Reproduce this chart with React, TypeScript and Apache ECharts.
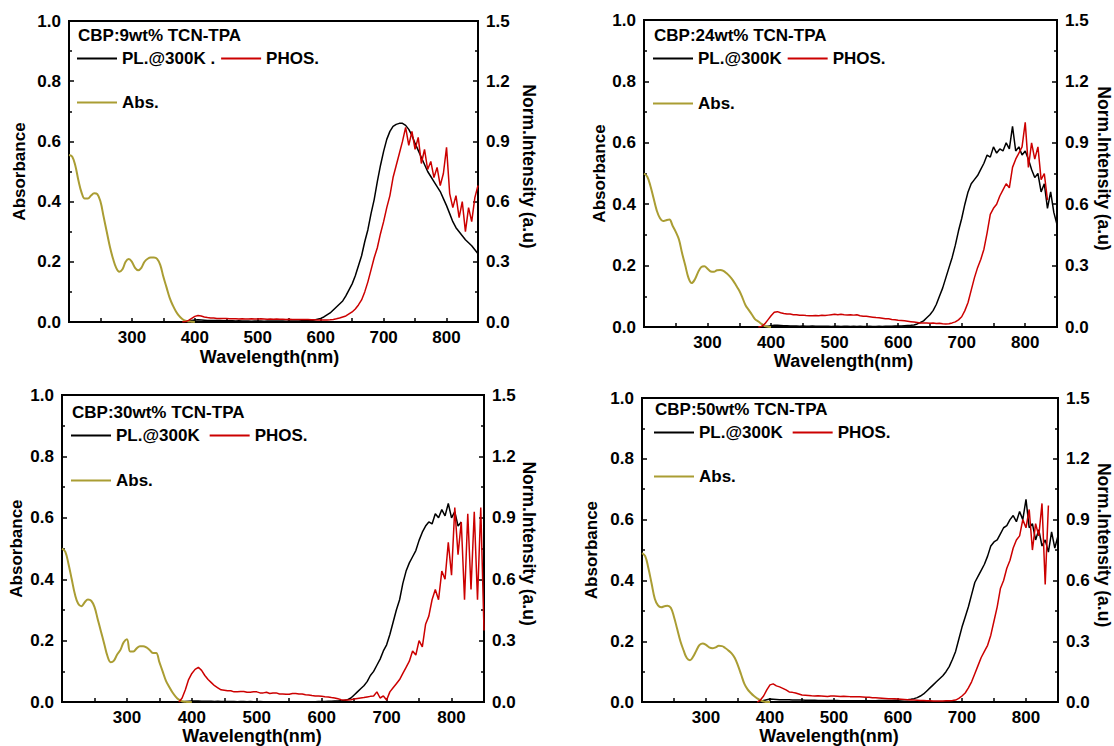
import React, { useEffect, useRef } from 'react';
import * as echarts from 'echarts';

// ---------- data ----------
const WL_ABS = [200, 205, 210, 215, 220, 225, 230, 235, 240, 245, 250, 255, 260, 265, 270, 275, 280, 285, 290, 295, 300, 305, 310, 315, 320, 325, 330, 335, 340, 345, 350, 355, 360, 365, 370, 375, 380, 385, 390, 395, 400];

const WL_EM = [380, 385, 390, 395, 400, 405, 410, 415, 420, 425,
  430, 435, 440, 445, 450, 455, 460, 465, 470, 475,
  480, 485, 490, 495, 500, 505, 510, 515, 520, 525,
  530, 535, 540, 545, 550, 555, 560, 565, 570, 575,
  580, 585, 590, 595, 600, 605, 610, 615, 620, 625,
  630, 635, 640, 645, 650, 655, 660, 665, 670, 675,
  680, 685, 690, 695, 700, 705, 710, 715, 720, 725,
  730, 735, 740, 745, 750, 755, 760, 765, 770, 775,
  780, 785, 790, 795, 800, 805, 810, 815, 820, 825,
  830, 835, 840, 845, 850];

// Absorbance (left axis)
const ABS_1 = [0.555, 0.55, 0.52, 0.47, 0.43, 0.41, 0.41, 0.42, 0.428, 0.425, 0.4, 0.35, 0.3, 0.25, 0.21, 0.18, 0.167, 0.175, 0.2, 0.209, 0.2, 0.18, 0.172, 0.18, 0.2, 0.21, 0.214, 0.214, 0.21, 0.19, 0.15, 0.115, 0.08, 0.055, 0.035, 0.02, 0.01, 0.004, 0.002, 0.001, 0];
const ABS_2 = [0.5, 0.49, 0.46, 0.42, 0.38, 0.355, 0.345, 0.348, 0.35, 0.33, 0.31, 0.285, 0.24, 0.2, 0.16, 0.143, 0.155, 0.178, 0.195, 0.198, 0.19, 0.181, 0.18, 0.185, 0.186, 0.183, 0.175, 0.165, 0.152, 0.135, 0.118, 0.095, 0.07, 0.055, 0.04, 0.025, 0.018, 0.01, 0.003, 0.001, 0];
const ABS_3 = [0.5, 0.49, 0.45, 0.4, 0.35, 0.32, 0.312, 0.325, 0.334, 0.33, 0.31, 0.27, 0.23, 0.19, 0.15, 0.13, 0.135, 0.155, 0.17, 0.195, 0.205, 0.165, 0.165, 0.175, 0.182, 0.182, 0.178, 0.17, 0.16, 0.16, 0.13, 0.1, 0.07, 0.05, 0.032, 0.018, 0.008, 0.003, 0.001, 0, 0];
const ABS_4 = [0.49, 0.48, 0.44, 0.39, 0.34, 0.318, 0.312, 0.315, 0.317, 0.31, 0.28, 0.24, 0.2, 0.17, 0.145, 0.138, 0.15, 0.17, 0.188, 0.193, 0.188, 0.18, 0.177, 0.18, 0.185, 0.184, 0.178, 0.17, 0.16, 0.145, 0.12, 0.09, 0.06, 0.042, 0.03, 0.02, 0.012, 0.006, 0.002, 0, 0];

// PL @300K (right axis, normalized)
const PL_1 = [0, 0.002, 0.005, 0.008, 0.01, 0.011, 0.01, 0.009, 0.008, 0.008,
  0.007, 0.007, 0.007, 0.006, 0.006, 0.006, 0.006, 0.005, 0.006, 0.005,
  0.005, 0.005, 0.004, 0.005, 0.005, 0.005, 0.004, 0.005, 0.005, 0.005,
  0.005, 0.005, 0.005, 0.004, 0.005, 0.005, 0.005, 0.005, 0.006, 0.006,
  0.007, 0.008, 0.01, 0.014, 0.018, 0.025, 0.035, 0.045, 0.06, 0.075,
  0.09, 0.105, 0.13, 0.16, 0.19, 0.23, 0.28, 0.33, 0.4, 0.46,
  0.54, 0.61, 0.7, 0.78, 0.85, 0.91, 0.95, 0.975, 0.985, 0.99,
  0.99, 0.98, 0.96, 0.93, 0.89, 0.855, 0.82, 0.785, 0.75, 0.725,
  0.7, 0.675, 0.65, 0.615, 0.58, 0.54, 0.5, 0.47, 0.45, 0.43,
  0.41, 0.395, 0.38, 0.36, 0.34];
const PL_2 = [0, 0, 0.002, 0.004, 0.006, 0.008, 0.008, 0.007, 0.006, 0.006,
  0.005, 0.005, 0.005, 0.004, 0.005, 0.004, 0.004, 0.005, 0.004, 0.004,
  0.004, 0.004, 0.004, 0.003, 0.004, 0.004, 0.003, 0.004, 0.004, 0.003,
  0.004, 0.003, 0.004, 0.003, 0.003, 0.004, 0.003, 0.003, 0.004, 0.003,
  0.004, 0.004, 0.004, 0.005, 0.005, 0.005, 0.006, 0.007, 0.008, 0.01,
  0.015, 0.022, 0.03, 0.045, 0.06, 0.08, 0.11, 0.15, 0.19, 0.24,
  0.29, 0.34, 0.4, 0.47, 0.53, 0.6, 0.66, 0.7, 0.72, 0.74,
  0.77, 0.8, 0.84, 0.83, 0.88, 0.85, 0.87, 0.86, 0.9, 0.87,
  0.98, 0.86, 0.88, 0.84, 0.86, 0.82, 0.77, 0.73, 0.75, 0.66,
  0.7, 0.58, 0.66, 0.56, 0.5];
const PL_3 = [0, 0.002, 0.003, 0.004, 0.005, 0.005, 0.005, 0.004, 0.004, 0.004,
  0.004, 0.003, 0.004, 0.003, 0.003, 0.003, 0.003, 0.003, 0.002, 0.003,
  0.003, 0.002, 0.003, 0.002, 0.002, 0.003, 0.002, 0.002, 0.002, 0.002,
  0.002, 0.002, 0.002, 0.002, 0.002, 0.002, 0.002, 0.002, 0.002, 0.002,
  0.002, 0.002, 0.002, 0.003, 0.003, 0.003, 0.004, 0.004, 0.005, 0.005,
  0.006, 0.008, 0.012, 0.02, 0.035, 0.05, 0.065, 0.08, 0.1, 0.13,
  0.15, 0.18, 0.21, 0.25, 0.28, 0.33, 0.39, 0.45, 0.5, 0.58,
  0.64, 0.68, 0.71, 0.74, 0.79, 0.83, 0.86, 0.88, 0.87, 0.92,
  0.9, 0.94, 0.91, 0.97, 0.9, 0.93, 0.86, 0.88, null, null,
  null, null, null, null, null];
const PL_4 = [0, 0.004, 0.008, 0.012, 0.015, 0.014, 0.013, 0.012, 0.012, 0.011,
  0.011, 0.01, 0.01, 0.01, 0.01, 0.009, 0.009, 0.009, 0.009, 0.008,
  0.008, 0.008, 0.008, 0.008, 0.008, 0.008, 0.007, 0.007, 0.007, 0.007,
  0.007, 0.007, 0.007, 0.007, 0.007, 0.007, 0.007, 0.007, 0.008, 0.008,
  0.008, 0.008, 0.008, 0.009, 0.009, 0.01, 0.011, 0.012, 0.014, 0.017,
  0.022, 0.03, 0.04, 0.055, 0.07, 0.085, 0.1, 0.115, 0.13, 0.15,
  0.175, 0.21, 0.25, 0.31, 0.37, 0.42, 0.47, 0.53, 0.59, 0.62,
  0.65, 0.68, 0.72, 0.77, 0.79, 0.8, 0.83, 0.86, 0.87, 0.9,
  0.92, 0.89, 0.94, 0.9, 1.0, 0.86, 0.88, 0.8, 0.85, 0.77,
  0.8, 0.74, 0.84, 0.76, 0.82];

// Phosphorescence (right axis, normalized)
const PHOS_1 = [0, 0.002, 0.008, 0.018, 0.028, 0.032, 0.03, 0.025, 0.022, 0.02,
  0.02, 0.018, 0.018, 0.017, 0.017, 0.016, 0.016, 0.016, 0.015, 0.016,
  0.015, 0.015, 0.016, 0.015, 0.015, 0.016, 0.015, 0.014, 0.015, 0.014,
  0.015, 0.014, 0.014, 0.013, 0.014, 0.013, 0.013, 0.012, 0.013, 0.012,
  0.012, 0.011, 0.011, 0.01, 0.01, 0.01, 0.01, 0.011, 0.013, 0.016,
  0.02, 0.025, 0.03, 0.04, 0.05, 0.065, 0.085, 0.11, 0.15, 0.2,
  0.26, 0.32, 0.37, 0.44, 0.5, 0.57, 0.63, 0.72, 0.78, 0.84,
  0.9, 0.97, 0.88, 0.95, 0.86, 0.92, 0.79, 0.86, 0.76, 0.8,
  0.72, 0.77, 0.68, 0.74, 0.87, 0.64, 0.57, 0.63, 0.52, 0.6,
  0.45, 0.57, 0.5, 0.62, 0.68];
const PHOS_2 = [0, 0.003, 0.015, 0.035, 0.055, 0.072, 0.075, 0.07, 0.066, 0.063,
  0.063, 0.06, 0.06, 0.057, 0.058, 0.056, 0.055, 0.055, 0.056, 0.055,
  0.057, 0.056, 0.058, 0.06, 0.062, 0.06, 0.062, 0.06, 0.059, 0.06,
  0.058, 0.06, 0.055, 0.053, 0.052, 0.05, 0.048, 0.046, 0.045, 0.043,
  0.04, 0.04, 0.037, 0.035, 0.033, 0.032, 0.03, 0.028, 0.026, 0.024,
  0.022, 0.02, 0.02, 0.02, 0.018, 0.019, 0.017, 0.018, 0.016, 0.015,
  0.016, 0.02, 0.025, 0.035, 0.05, 0.08, 0.12, 0.18, 0.24, 0.29,
  0.33, 0.38, 0.46, 0.55, 0.58, 0.6, 0.64, 0.67, 0.7, 0.68,
  0.78, 0.82, 0.85, 0.88, 1.0, 0.78, 0.9, 0.82, 0.88, 0.72,
  0.75, 0.62, null, null, null];
const PHOS_3 = [0, 0.02, 0.06, 0.11, 0.14, 0.16, 0.17, 0.155, 0.13, 0.11,
  0.095, 0.08, 0.07, 0.06, 0.058, 0.055, 0.055, 0.05, 0.05, 0.052,
  0.052, 0.048, 0.048, 0.05, 0.05, 0.045, 0.045, 0.048, 0.042, 0.044,
  0.045, 0.04, 0.04, 0.038, 0.038, 0.042, 0.042, 0.04, 0.04, 0.036,
  0.035, 0.032, 0.03, 0.03, 0.028, 0.026, 0.025, 0.022, 0.02, 0.016,
  0.012, 0.01, 0.01, 0.012, 0.015, 0.018, 0.02, 0.022, 0.025, 0.028,
  0.03, 0.05, 0.02, 0.03, 0.01, 0.05, 0.07, 0.09, 0.11, 0.14,
  0.17, 0.2, 0.25, 0.23, 0.3, 0.27, 0.38, 0.42, 0.5, 0.55,
  0.5, 0.64, 0.6, 0.78, 0.62, 0.95, 0.72, 0.88, 0.5, 0.92,
  0.55, 0.93, 0.5, 0.95, 0.35];
const PHOS_4 = [0, 0.01, 0.03, 0.06, 0.085, 0.09, 0.08, 0.075, 0.068, 0.06,
  0.05, 0.048, 0.045, 0.04, 0.035, 0.034, 0.033, 0.031, 0.03, 0.031,
  0.03, 0.029, 0.028, 0.03, 0.03, 0.029, 0.028, 0.029, 0.028, 0.027,
  0.027, 0.026, 0.026, 0.025, 0.024, 0.024, 0.022, 0.021, 0.02, 0.019,
  0.018, 0.017, 0.016, 0.016, 0.015, 0.014, 0.013, 0.012, 0.01, 0.01,
  0.009, 0.008, 0.008, 0.007, 0.007, 0.006, 0.006, 0.006, 0.006, 0.007,
  0.007, 0.008, 0.01, 0.018, 0.03, 0.045, 0.07, 0.1, 0.14, 0.18,
  0.22, 0.25, 0.28, 0.33, 0.4, 0.47, 0.56, 0.6, 0.66, 0.7,
  0.76, 0.8, 0.82, 0.9, 0.86, 0.95, 0.75, 0.88, 0.82, 0.98,
  0.58, 0.97, null, null, null];

const PANEL_TITLES = ['CBP:9wt% TCN-TPA', 'CBP:24wt% TCN-TPA', 'CBP:30wt% TCN-TPA', 'CBP:50wt% TCN-TPA'];
const PL_NAMES = ['PL.@300K .', 'PL.@300K', 'PL.@300K', 'PL.@300K'];
const PHOS_NAME = 'PHOS.';
const ABS_NAME = 'Abs.';
const X_NAME = 'Wavelength(nm)';
const Y_LEFT_NAME = 'Absorbance';
const Y_RIGHT_NAME = 'Norm.Intensity (a.u)';
const X_LABELS = [300, 400, 500, 600, 700, 800];

const ABS_SETS = [ABS_1, ABS_2, ABS_3, ABS_4];
const PL_SETS = [PL_1, PL_2, PL_3, PL_4];
const PHOS_SETS = [PHOS_1, PHOS_2, PHOS_3, PHOS_4];

// ---------- layout ----------
const PANELS = [
  { left: 69, top: 21, width: 409, height: 301, lx: 77, titleTop: 27, plTop: 50, absTop: 94, gap: 6, yl: 41, yr: 42, xg: 26, xpad: 8 },
  { left: 644, top: 20, width: 418, height: 307, lx: 653, titleTop: 27, plTop: 50, absTop: 95, gap: 6, yl: 33, yr: 38, xg: 24, xpad: 14 },
  { left: 62, top: 395, width: 422, height: 312, lx: 71, titleTop: 404, plTop: 427, absTop: 472, gap: 10, yl: 37, yr: 33, xg: 22, xpad: 42 },
  { left: 642, top: 398, width: 419, height: 306, lx: 654, titleTop: 401, plTop: 424, absTop: 468, gap: 10, yl: 42, yr: 37, xg: 23, xpad: 42 },
];

const FONT = '"Liberation Sans", Arial, Helvetica, sans-serif';
const BLACK = '#000000';
const RED = '#cc0000';
const OLIVE = '#aa9d33';

function pairs(xs: number[], ys: (number | null)[]) {
  const out: number[][] = [];
  ys.forEach((y, i) => {
    if (y !== null && y !== undefined) out.push([xs[i], y]);
  });
  return out;
}

function buildOption() {
  const grid: any[] = [];
  const xAxis: any[] = [];
  const yAxis: any[] = [];
  const series: any[] = [];
  const legend: any[] = [];
  const title: any[] = [];

  const labelStyle = { fontSize: 17, fontWeight: 'bold', color: BLACK, fontFamily: FONT };

  PANELS.forEach((p, i) => {
    grid.push({
      left: p.left, top: p.top, width: p.width, height: p.height,
      show: true, borderColor: BLACK, borderWidth: 2, backgroundColor: 'transparent',
    });
    xAxis.push({
      type: 'value', gridIndex: i, min: 200, max: 850, interval: 50,
      axisLine: { show: true, lineStyle: { color: BLACK, width: 2 } },
      axisTick: { show: true, inside: true, length: 4, lineStyle: { color: BLACK, width: 1.5 } },
      splitLine: { show: false },
      axisLabel: {
        ...labelStyle, margin: 7,
        formatter: (v: number) => (X_LABELS.indexOf(Math.round(v)) >= 0 ? String(Math.round(v)) : ''),
      },
      name: X_NAME, nameLocation: 'middle', nameGap: p.xg,
      nameTextStyle: { fontSize: 18, fontWeight: 'bold', color: BLACK, fontFamily: FONT, padding: [0, p.xpad, 0, 0] },
    });
    yAxis.push({
      type: 'value', gridIndex: i, position: 'left', min: 0, max: 1, interval: 0.2,
      axisLine: { show: true, lineStyle: { color: BLACK, width: 2 } },
      axisTick: { show: true, inside: true, length: 5, lineStyle: { color: BLACK, width: 1.5 } },
      minorTick: { show: true, splitNumber: 2, length: 3, lineStyle: { color: BLACK, width: 1.5 } },
      splitLine: { show: false },
      axisLabel: { ...labelStyle, margin: 8, formatter: (v: number) => v.toFixed(1) },
      name: Y_LEFT_NAME, nameLocation: 'middle', nameRotate: 90, nameGap: p.yl,
      nameTextStyle: { fontSize: 17, fontWeight: 'bold', color: BLACK, fontFamily: FONT },
    });
    yAxis.push({
      type: 'value', gridIndex: i, position: 'right', min: 0, max: 1.5, interval: 0.3,
      axisLine: { show: true, lineStyle: { color: BLACK, width: 2 } },
      axisTick: { show: true, inside: true, length: 5, lineStyle: { color: BLACK, width: 1.5 } },
      minorTick: { show: true, splitNumber: 2, length: 3, lineStyle: { color: BLACK, width: 1.5 } },
      splitLine: { show: false },
      axisLabel: { ...labelStyle, margin: 8, formatter: (v: number) => v.toFixed(1) },
      name: Y_RIGHT_NAME, nameLocation: 'middle', nameRotate: -90, nameGap: p.yr,
      nameTextStyle: { fontSize: 17.5, fontWeight: 'bold', color: BLACK, fontFamily: FONT, padding: [0, 10, 0, 0] },
    });

    series.push({
      type: 'line', name: ABS_NAME, xAxisIndex: i, yAxisIndex: 2 * i,
      data: pairs(WL_ABS, ABS_SETS[i]), symbol: 'none', smooth: 0.4,
      lineStyle: { color: OLIVE, width: 2 }, itemStyle: { color: OLIVE }, z: 3,
    });
    series.push({
      type: 'line', name: PL_NAMES[i], xAxisIndex: i, yAxisIndex: 2 * i + 1,
      data: pairs(WL_EM, PL_SETS[i]), symbol: 'none',
      lineStyle: { color: BLACK, width: 1.5 }, itemStyle: { color: BLACK }, z: 2,
    });
    series.push({
      type: 'line', name: PHOS_NAME, xAxisIndex: i, yAxisIndex: 2 * i + 1,
      data: pairs(WL_EM, PHOS_SETS[i]), symbol: 'none',
      lineStyle: { color: RED, width: 1.5 }, itemStyle: { color: RED }, z: 4,
    });

    const legendText = { fontSize: 17, fontWeight: 'bold', color: BLACK, fontFamily: FONT };
    legend.push({
      data: [PL_NAMES[i], PHOS_NAME], left: p.lx, top: p.plTop, orient: 'horizontal',
      icon: 'rect', itemWidth: 40, itemHeight: 2, itemGap: p.gap, padding: 0, selectedMode: false,
      textStyle: legendText,
    });
    legend.push({
      data: [ABS_NAME], left: p.lx, top: p.absTop, orient: 'horizontal',
      icon: 'rect', itemWidth: 40, itemHeight: 2, padding: 0, selectedMode: false,
      textStyle: legendText,
    });
    title.push({
      text: PANEL_TITLES[i], left: p.lx + 1, top: p.titleTop, padding: 0,
      textStyle: { fontSize: 17, fontWeight: 'bold', color: BLACK, fontFamily: FONT },
    });
  });

  return {
    animation: false,
    backgroundColor: '#ffffff',
    textStyle: { fontFamily: FONT },
    title, legend, grid, xAxis, yAxis, series,
  };
}

export default function App() {
  const ref = useRef<HTMLDivElement>(null);
  useEffect(() => {
    if (!ref.current) return;
    const chart = echarts.init(ref.current, undefined, { renderer: 'svg' });
    chart.setOption(buildOption() as any);
    return () => chart.dispose();
  }, []);
  return (
    <div
      ref={ref}
      style={{ position: 'absolute', left: 0, top: 0, width: 1114, height: 746 }}
    />
  );
}
